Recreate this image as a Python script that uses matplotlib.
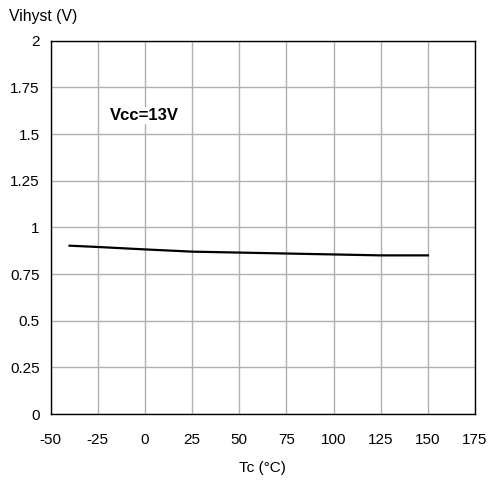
import matplotlib.pyplot as plt

plt.rcParams['font.family'] = ['Liberation Sans', 'DejaVu Sans']
plt.rcParams['axes.unicode_minus'] = False

# temperature (degC) and hysteresis voltage (V)
tc = [-40, -25, 0, 25, 50, 75, 100, 125, 150]
vihyst = [0.902, 0.895, 0.882, 0.870, 0.865, 0.860, 0.855, 0.850, 0.850]

xticks = [-50, -25, 0, 25, 50, 75, 100, 125, 150, 175]
yticks = [0, 0.25, 0.5, 0.75, 1, 1.25, 1.5, 1.75, 2]
ylabels = ["0", "0.25", "0.5", "0.75", "1", "1.25", "1.5", "1.75", "2"]

fig = plt.figure(figsize=(4.9, 4.82), dpi=100)
ax = fig.add_axes([0.1035, 0.141, 0.866, 0.7745])

ax.plot(tc, vihyst, color="black", lw=1.6)

ax.set_xlim(-50, 175)
ax.set_ylim(0, 2)
ax.set_xticks(xticks)
ax.set_yticks(yticks)
ax.set_yticklabels(ylabels)
ax.tick_params(axis="x", length=0, labelsize=11, pad=13.5)
ax.tick_params(axis="y", length=0, labelsize=11, pad=8)
ax.grid(True, color="#b0b0b0", lw=1)
ax.set_axisbelow(True)
for s in ax.spines.values():
    s.set_color("black")
    s.set_linewidth(1)

ax.set_xlabel("Tc (°C)", fontsize=11, labelpad=10)
fig.text(0.019, 0.966, "Vihyst (V)", fontsize=11.3, va="center", ha="left")
ax.text(-18.5, 1.60, "Vcc=13V", fontsize=12, fontweight="bold", va="center",
        bbox=dict(facecolor="white", edgecolor="none", pad=1))

plt.savefig("out.png")
plt.close()
